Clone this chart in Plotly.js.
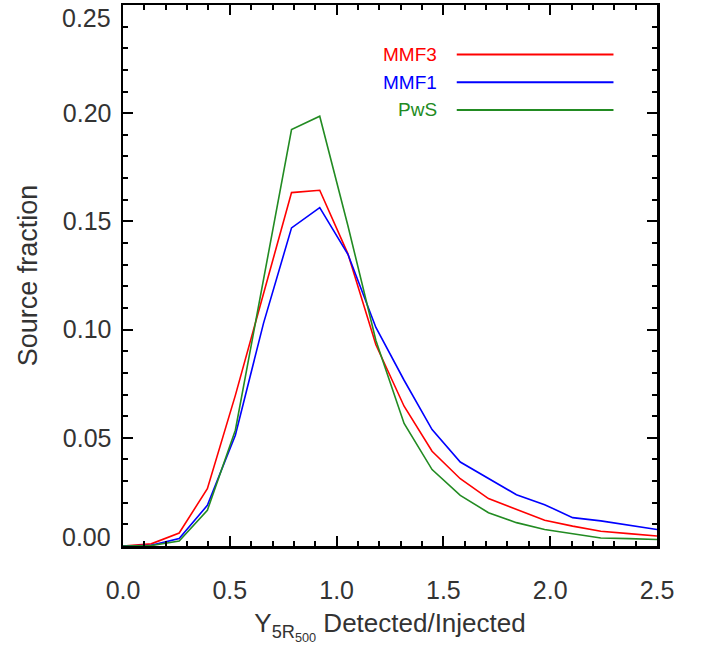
<!DOCTYPE html>
<html>
<head>
<meta charset="utf-8">
<script src="https://cdn.plot.ly/plotly-3.0.1.min.js"></script>
<style>html,body{margin:0;padding:0;background:#fff;}#chart{width:702px;height:646px;}</style>
</head>
<body>
<div id="chart"></div>
<script>
// Y_5R500 detected / injected (bin positions)
const ratio = [0.000, 0.132, 0.263, 0.395, 0.526, 0.658, 0.789, 0.921, 1.053, 1.184,
               1.316, 1.447, 1.579, 1.711, 1.842, 1.974, 2.105, 2.237, 2.368, 2.500];
const seriesNames = ["MMF3", "MMF1", "PwS"];
const mmf3 = [0.000, 0.001, 0.006, 0.0265, 0.0696, 0.117, 0.1633, 0.1644, 0.135, 0.093,
              0.0646, 0.0438, 0.0311, 0.0219, 0.0168, 0.0119, 0.0092, 0.0068, 0.0057, 0.0046];
const mmf1 = [0.000, 0.0003, 0.0034, 0.0188, 0.0512, 0.103, 0.147, 0.1564, 0.1348, 0.101,
              0.0766, 0.0538, 0.0388, 0.0311, 0.0237, 0.0191, 0.0131, 0.0116, 0.0096, 0.0076];
const pws  = [0.000, 0.0002, 0.0023, 0.0165, 0.0535, 0.123, 0.1924, 0.1986, 0.148, 0.095,
              0.0566, 0.0353, 0.0234, 0.0154, 0.0108, 0.0076, 0.0057, 0.0037, 0.0034, 0.0030];
const xTicks = [0.0, 0.5, 1.0, 1.5, 2.0, 2.5];
const xTickText = ["0.0", "0.5", "1.0", "1.5", "2.0", "2.5"];
const yTicks = [0.00, 0.05, 0.10, 0.15, 0.20, 0.25];
const yTickText = ["0.00", "0.05", "0.10", "0.15", "0.20", "0.25"];

const colors = ["#ff0000", "#0000ff", "#228b22"];
const seriesData = [mmf3, mmf1, pws];

const traces = seriesData.map((ys, k) => ({
  x: ratio, y: ys, type: "scatter", mode: "lines", name: seriesNames[k],
  line: {color: colors[k], width: 1.6}, showlegend: false, hoverinfo: "skip"
}));

const fontFam = "Liberation Sans, Arial, Helvetica, sans-serif";
const txtColor = "#333333";
const tickSize = 25;

// the end labels of the y axis are pulled inside the frame, as in the reference
const yAxisText = yTickText.map((t, i) => (i === 0 || i === yTickText.length - 1) ? "" : t);
const shapes = [], annotations = [];
[[0, -9], [yTicks.length - 1, 13]].forEach(([i, shift]) => {
  annotations.push({xref: "paper", yref: "y", x: 0, y: yTicks[i], xanchor: "right", yanchor: "middle",
    xshift: -10, yshift: -shift, text: yTickText[i], showarrow: false,
    font: {family: fontFam, size: tickSize, color: txtColor}});
});

// custom legend (text right-aligned, line to its right)
const legendY = [0.9085, 0.857, 0.806];
seriesNames.forEach((nm, k) => {
  annotations.push({xref: "paper", yref: "paper", x: 0.591, y: legendY[k], xanchor: "right", yanchor: "middle",
    text: nm, showarrow: false, font: {family: fontFam, size: 19, color: colors[k]}});
  shapes.push({type: "line", xref: "paper", yref: "paper", x0: 0.625, x1: 0.9185, y0: legendY[k], y1: legendY[k],
    line: {color: colors[k], width: 2}});
});

const axisCommon = {
  showgrid: false, zeroline: false, showline: true, linecolor: "#000", linewidth: 2.5,
  mirror: "ticks", ticks: "inside", ticklen: 10, tickwidth: 2, tickcolor: "#000",
  tickfont: {family: fontFam, size: tickSize, color: txtColor}
};

const layout = {
  width: 702, height: 646,
  margin: {l: 123, r: 45, t: 5, b: 100},
  paper_bgcolor: "#fff", plot_bgcolor: "#fff",
  xaxis: Object.assign({}, axisCommon, {
    range: [0, 2.5], tickvals: xTicks, ticktext: xTickText, ticklabelstandoff: 20,
    minor: {dtick: 0.1, ticks: "inside", ticklen: 5, tickwidth: 2, tickcolor: "#000", showgrid: false},
    title: {text: "Y<sub>5R<sub>500</sub></sub> Detected/Injected", font: {family: fontFam, size: 26, color: txtColor}, standoff: 12}
  }),
  yaxis: Object.assign({}, axisCommon, {
    range: [0, 0.25], tickvals: yTicks, ticktext: yAxisText, ticklabelstandoff: 4,
    minor: {dtick: 0.01, ticks: "inside", ticklen: 5, tickwidth: 2, tickcolor: "#000", showgrid: false},
    title: {text: "Source fraction", font: {family: fontFam, size: 27, color: txtColor}, standoff: 18}
  }),
  shapes: shapes, annotations: annotations
};

Plotly.newPlot("chart", traces, layout, {displayModeBar: false, staticPlot: true});
</script>
</body>
</html>
